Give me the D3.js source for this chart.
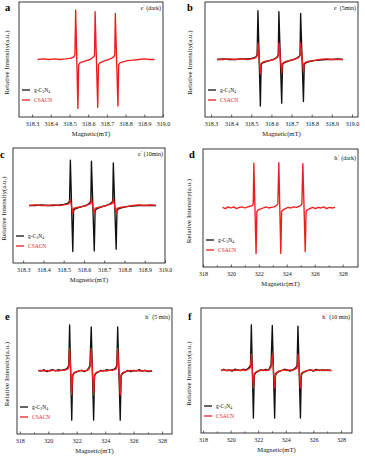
<!DOCTYPE html>
<html>
<head>
<meta charset="utf-8">
<script src="https://cdn.jsdelivr.net/npm/d3@7"></script>
<style>
  html, body { margin: 0; padding: 0; background: #fff; }
  svg { display: block; font-family: "Liberation Serif", "Times New Roman", serif; }
</style>
</head>
<body>
<div id="chart"></div>
<script>
// magnetic field (mT) sample positions
const fieldE = [318.33, 318.36, 318.39, 318.42, 318.45, 318.48, 318.50, 318.515, 318.524, 318.529,
  318.533, 318.545, 318.549, 318.556, 318.57, 318.59, 318.61, 318.623, 318.63, 318.634,
  318.637, 318.651, 318.655, 318.662, 318.675, 318.69, 318.71, 318.728, 318.737, 318.742,
  318.745, 318.759, 318.763, 318.77, 318.785, 318.81, 318.84, 318.87, 318.90, 318.93, 318.955];
const fieldD = [319.4, 319.6, 319.8, 320.0, 320.2, 320.4, 320.6, 320.8, 321.0, 321.2,
  321.4, 321.52, 321.6, 321.64, 321.80, 321.86, 321.95, 322.1, 322.3, 322.5,
  322.7, 322.9, 323.1, 323.25, 323.36, 323.43, 323.57, 323.63, 323.72, 323.9,
  324.1, 324.3, 324.5, 324.7, 324.9, 325.0, 325.08, 325.15, 325.32, 325.38,
  325.48, 325.65, 325.85, 326.05, 326.25, 326.45, 326.65, 326.85, 327.05, 327.25, 327.45];
const fieldH = [319.3, 319.5, 319.7, 319.9, 320.1, 320.3, 320.5, 320.7, 320.9, 321.1,
  321.25, 321.36, 321.44, 321.50, 321.65, 321.71, 321.8, 321.95, 322.15, 322.35,
  322.55, 322.75, 322.85, 322.93, 323.02, 323.19, 323.25, 323.35, 323.5, 323.7,
  323.9, 324.1, 324.3, 324.5, 324.65, 324.75, 324.82, 324.88, 325.06, 325.12,
  325.22, 325.4, 325.6, 325.8, 326.0, 326.2, 326.4, 326.6, 326.8, 327.0, 327.3];

// relative intensities (a.u.)
const aCSACN = [0.00, 0.01, 0.00, 0.01, 0.00, 0.01, 0.02, 0.03, 0.05, 0.08,
  0.86, -0.85, -0.09, -0.06, -0.04, -0.02, 0.00, 0.03, 0.05, 0.08,
  0.83, -0.83, -0.09, -0.06, -0.04, -0.02, 0.00, 0.03, 0.05, 0.08,
  0.80, -0.81, -0.09, -0.06, -0.04, -0.02, -0.01, 0.00, 0.01, 0.00, 0.00];
const bGCN = [0.00, 0.01, 0.00, 0.00, 0.01, 0.01, 0.02, 0.03, 0.05, 0.08,
  0.85, -0.81, -0.09, -0.06, -0.04, -0.02, 0.00, 0.03, 0.05, 0.08,
  0.83, -0.76, -0.09, -0.06, -0.04, -0.02, 0.00, 0.03, 0.05, 0.08,
  0.80, -0.73, -0.09, -0.06, -0.04, -0.02, -0.01, 0.00, 0.00, 0.01, 0.00];
const bCSACN = [0.00, 0.00, 0.01, 0.00, 0.01, 0.00, 0.01, 0.02, 0.04, 0.07,
  0.29, -0.25, -0.07, -0.05, -0.03, -0.02, 0.00, 0.02, 0.04, 0.07,
  0.29, -0.23, -0.07, -0.05, -0.03, -0.02, 0.00, 0.02, 0.04, 0.07,
  0.29, -0.21, -0.07, -0.05, -0.03, -0.02, 0.00, 0.01, 0.00, 0.00, 0.00];
const cGCN = [0.00, 0.00, 0.01, 0.00, 0.00, 0.01, 0.02, 0.03, 0.05, 0.08,
  0.79, -0.80, -0.09, -0.06, -0.04, -0.02, 0.00, 0.03, 0.05, 0.08,
  0.77, -0.79, -0.09, -0.06, -0.04, -0.02, 0.00, 0.03, 0.05, 0.08,
  0.74, -0.76, -0.09, -0.06, -0.04, -0.02, -0.01, 0.00, 0.00, 0.00, 0.00];
const cCSACN = [0.00, 0.01, 0.00, 0.00, 0.01, 0.00, 0.01, 0.02, 0.03, 0.05,
  0.11, -0.14, -0.05, -0.04, -0.03, -0.02, 0.00, 0.02, 0.03, 0.05,
  0.11, -0.14, -0.05, -0.04, -0.03, -0.02, 0.00, 0.02, 0.03, 0.05,
  0.11, -0.14, -0.05, -0.04, -0.03, -0.02, 0.00, 0.01, 0.00, 0.01, 0.00];
const dCSACN = [0.01, -0.01, 0.02, 0.00, 0.02, -0.01, 0.01, 0.02, 0.00, 0.02,
  0.03, 0.04, 0.07, 0.76, -0.77, -0.06, -0.03, -0.02, 0.00, 0.02,
  0.00, 0.01, 0.02, 0.04, 0.07, 0.77, -0.77, -0.06, -0.03, -0.01,
  0.01, 0.00, 0.02, 0.01, 0.03, 0.04, 0.07, 0.75, -0.74, -0.06,
  -0.03, -0.01, 0.01, -0.01, 0.01, 0.00, 0.02, -0.01, 0.01, 0.00, 0.01];
const eGCN = [0.01, 0.00, 0.02, -0.01, 0.01, 0.02, 0.00, 0.02, 0.01, 0.02,
  0.03, 0.05, 0.09, 0.73, -0.78, -0.08, -0.04, -0.02, 0.00, 0.01,
  -0.01, 0.02, 0.05, 0.09, 0.70, -0.78, -0.08, -0.04, -0.02, 0.01,
  0.00, 0.02, 0.01, 0.02, 0.03, 0.05, 0.09, 0.70, -0.78, -0.08,
  -0.04, -0.02, 0.01, -0.01, 0.01, 0.00, 0.02, 0.00, 0.01, -0.01, 0.00];
const eCSACN = [0.00, 0.01, 0.00, 0.01, 0.00, 0.01, 0.01, 0.00, 0.01, 0.01,
  0.02, 0.03, 0.06, 0.36, -0.38, -0.06, -0.03, -0.01, 0.00, 0.01,
  0.00, 0.01, 0.03, 0.06, 0.36, -0.38, -0.06, -0.03, -0.01, 0.00,
  0.01, 0.00, 0.01, 0.01, 0.02, 0.03, 0.06, 0.36, -0.38, -0.06,
  -0.03, -0.01, 0.00, 0.01, 0.00, 0.01, 0.00, 0.00, 0.01, 0.00, 0.00];
const fGCN = [0.00, 0.02, 0.00, 0.01, -0.01, 0.02, 0.01, 0.00, 0.02, 0.01,
  0.03, 0.05, 0.09, 0.73, -0.76, -0.08, -0.04, -0.02, 0.01, 0.00,
  0.02, 0.00, 0.05, 0.09, 0.72, -0.76, -0.08, -0.04, -0.02, 0.00,
  0.02, 0.01, -0.01, 0.01, 0.03, 0.05, 0.09, 0.71, -0.76, -0.08,
  -0.04, -0.02, 0.00, 0.01, -0.01, 0.02, 0.00, 0.01, 0.00, 0.01, 0.00];
const fCSACN = [0.00, 0.01, 0.00, 0.00, 0.01, 0.00, 0.01, 0.00, 0.01, 0.00,
  0.02, 0.03, 0.05, 0.26, -0.28, -0.05, -0.03, -0.01, 0.00, 0.01,
  0.00, 0.01, 0.03, 0.05, 0.26, -0.28, -0.05, -0.03, -0.01, 0.00,
  0.01, 0.00, 0.01, 0.00, 0.02, 0.03, 0.05, 0.26, -0.28, -0.05,
  -0.03, -0.01, 0.00, 0.01, 0.00, 0.00, 0.01, 0.00, 0.01, 0.00, 0.00];

const ticksE = [318.3, 318.4, 318.5, 318.6, 318.7, 318.8, 318.9, 319.0];
const ticksH = [318, 320, 322, 324, 326, 328];
const minorH = [319, 321, 323, 325, 327];

const BLACK = "#111", RED = "#ee1c1c";

const panels = [
  { letter: "a", box: [19, 2, 163, 117], lx: 5, ly: 11, ylx: 7, dom: [318.23, 319.0], field: fieldE,
    ticks: ticksE, fmt: ".1f", minor: [], sym: "e", sup: "-", cond: " (dark)", gcn: null, csacn: aCSACN },
  { letter: "b", box: [205, 2, 358, 117], lx: 187, ly: 11, ylx: 190, dom: [318.27, 319.03], field: fieldE,
    ticks: ticksE, fmt: ".1f", minor: [], sym: "e", sup: "-", cond: " (5min)", gcn: bGCN, csacn: bCSACN },
  { letter: "c", box: [13, 148, 165, 263], lx: 0, ly: 158, ylx: 4, dom: [318.25, 319.0], field: fieldE,
    ticks: ticksE, fmt: ".1f", minor: [], sym: "e", sup: "-", cond: " (10min)", gcn: cGCN, csacn: cCSACN },
  { letter: "d", box: [203, 149, 358, 267], lx: 189, ly: 158, ylx: 189, dom: [318, 329.1], field: fieldD,
    ticks: ticksH, fmt: "d", minor: minorH, sym: "h", sup: "+", cond: " (dark)", gcn: null, csacn: dCSACN },
  { letter: "e", box: [17, 308, 172, 434], lx: 5, ly: 320, ylx: 7, dom: [317.8, 328.7], field: fieldH,
    ticks: ticksH, fmt: "d", minor: minorH, sym: "h", sup: "+", cond: " (5 min)", gcn: eGCN, csacn: eCSACN },
  { letter: "f", box: [201, 308, 352, 433], lx: 188, ly: 320, ylx: 189, dom: [317.85, 328.8], field: fieldH,
    ticks: ticksH, fmt: "d", minor: minorH, sym: "h", sup: "+", cond: " (10 min)", gcn: fGCN, csacn: fCSACN }
];

const svg = d3.select("#chart").append("svg")
  .attr("width", 365).attr("height", 459);
svg.append("rect").attr("width", 365).attr("height", 459).attr("fill", "#fff");

function drawPanel(p) {
  const [x0, y0, x1, y1] = p.box;
  const g = svg.append("g");
  const x = d3.scaleLinear().domain(p.dom).range([x0, x1]);
  const y = d3.scaleLinear().domain([-1, 1]).range([y1, y0]);

  // frame
  g.append("rect")
    .attr("x", x0).attr("y", y0).attr("width", x1 - x0).attr("height", y1 - y0)
    .attr("fill", "none").attr("stroke", "#222").attr("stroke-width", 0.9);

  // bottom axis, ticks pointing inward
  const ax = g.append("g").attr("transform", "translate(0," + y1 + ")")
    .call(d3.axisBottom(x).tickValues(p.ticks).tickSizeInner(-2.5).tickSizeOuter(0)
      .tickPadding(5).tickFormat(d3.format(p.fmt)));
  ax.select(".domain").remove();
  ax.selectAll("line").attr("stroke", "#222").attr("stroke-width", 0.7);
  ax.selectAll("text").attr("font-size", 6).attr("fill", "#111")
    .attr("font-family", "Liberation Serif, serif");
  if (p.minor.length) {
    const mx = g.append("g").attr("transform", "translate(0," + y1 + ")")
      .call(d3.axisBottom(x).tickValues(p.minor).tickSizeInner(-1.6).tickSizeOuter(0).tickFormat(""));
    mx.select(".domain").remove();
    mx.selectAll("line").attr("stroke", "#222").attr("stroke-width", 0.7);
  }

  // axis titles
  g.append("text").attr("x", (x0 + x1) / 2).attr("y", y1 + 19)
    .attr("text-anchor", "middle").attr("font-size", 6.6).attr("fill", "#111")
    .text("Magnetic(mT)");
  g.append("text")
    .attr("transform", "translate(" + p.ylx + "," + ((y0 + y1) / 2 + 3) + ") rotate(-90)")
    .attr("text-anchor", "middle").attr("dominant-baseline", "middle")
    .attr("font-size", 7).attr("fill", "#111")
    .text("Relative Intensity(a.u.)");

  // panel letter
  g.append("text").attr("x", p.lx).attr("y", p.ly)
    .attr("font-size", 10.5).attr("font-weight", "bold").attr("fill", "#000")
    .text(p.letter);

  // condition label, top right
  const isE = p.sym === "e";
  const t = g.append("text").attr("x", x1 - 2).attr("y", y0 + (isE ? 8 : 11))
    .attr("text-anchor", "end").attr("font-size", 6).attr("fill", "#111");
  t.append("tspan").attr("font-style", isE ? "italic" : "normal").text(p.sym);
  t.append("tspan").attr("font-size", 4.4).attr("dy", -2.8).text(p.sup);
  t.append("tspan").attr("dy", 2.8).text(p.cond);

  // spectra
  const line = d3.line().x(d => x(d[0])).y(d => y(d[1]));
  if (p.gcn) {
    g.append("path").datum(d3.zip(p.field, p.gcn)).attr("d", line)
      .attr("fill", "none").attr("stroke", BLACK).attr("stroke-width", 1.35)
      .attr("stroke-linejoin", "round");
  }
  g.append("path").datum(d3.zip(p.field, p.csacn)).attr("d", line)
    .attr("fill", "none").attr("stroke", RED).attr("stroke-width", 1.35)
    .attr("stroke-linejoin", "round");

  // legend
  const leg = [
    { name: "gcn", color: BLACK, dy: -27 },
    { name: "CSACN", color: RED, dy: -17 }
  ];
  leg.forEach(l => {
    const ly = y1 + l.dy;
    g.append("line").attr("x1", x0 + 3).attr("x2", x0 + 11).attr("y1", ly).attr("y2", ly)
      .attr("stroke", l.color).attr("stroke-width", 1.3);
    const tx = g.append("text").attr("x", x0 + 15).attr("y", ly + 1.9)
      .attr("font-size", 5.5).attr("fill", l.name === "gcn" ? "#111" : RED);
    if (l.name === "gcn") {
      tx.append("tspan").text("g-C");
      tx.append("tspan").attr("font-size", 3.8).attr("dy", 1.2).text("3");
      tx.append("tspan").attr("dy", -1.2).text("N");
      tx.append("tspan").attr("font-size", 3.8).attr("dy", 1.2).text("4");
    } else {
      tx.text("CSACN");
    }
  });
}

panels.forEach(drawPanel);
</script>
</body>
</html>
